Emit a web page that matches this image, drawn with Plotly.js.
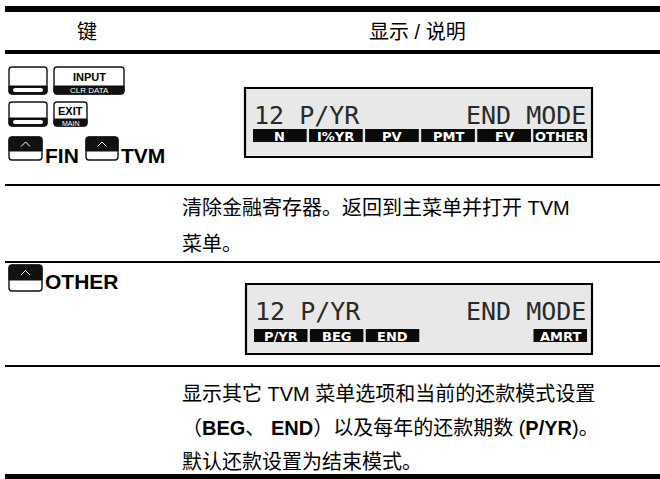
<!DOCTYPE html>
<html>
<head>
<meta charset="utf-8">
<script src="https://cdn.plot.ly/plotly-3.0.1.min.js"></script>
<style>html,body{margin:0;padding:0;background:#fff;}#chart{width:660px;height:479px;}</style>
</head>
<body>
<div id="chart"></div>
<script>
// ---- content ----
const headers = ['键', '显示 / 说明'];
const inputKey = ['INPUT', 'CLR DATA'];
const exitKey = ['EXIT', 'MAIN'];
const row1ShiftLabels = ['FIN', 'TVM'];
const display1Top = ['12 P/YR', 'END MODE'];
const display1Menu = ['N', 'I%YR', 'PV', 'PMT', 'FV', 'OTHER'];
const row1Desc = ['清除金融寄存器。返回到主菜单并打开 TVM', '菜单。'];
const row2ShiftLabels = ['OTHER'];
const display2Top = ['12 P/YR', 'END MODE'];
const display2Menu = ['P/YR', 'BEG', 'END', '', '', 'AMRT'];
const row2Desc = ['显示其它 TVM 菜单选项和当前的还款模式设置',
                  '（<b>BEG</b>、 <b>END</b>）以及每年的还款期数 (<b>P/YR</b>)。',
                  '默认还款设置为结束模式。'];

// ---- drawing helpers ----
const shapes = [];
const ann = [];
const BODY = 'Liberation Sans, Arial, Noto Sans CJK SC, sans-serif';
const LCD = 'DejaVu Sans Mono, monospace';

function rr(x0, y0, x1, y1, r) {
  return `M${x0+r},${y0} L${x1-r},${y0} Q${x1},${y0} ${x1},${y0+r} L${x1},${y1-r} Q${x1},${y1} ${x1-r},${y1} L${x0+r},${y1} Q${x0},${y1} ${x0},${y1-r} L${x0},${y0+r} Q${x0},${y0} ${x0+r},${y0} Z`;
}
function bottomBand(x0, yb, x1, y1, r) {
  return `M${x0},${yb} L${x1},${yb} L${x1},${y1-r} Q${x1},${y1} ${x1-r},${y1} L${x0+r},${y1} Q${x0},${y1} ${x0},${y1-r} Z`;
}
function topBand(x0, y0, x1, yb, r) {
  return `M${x0+r},${y0} L${x1-r},${y0} Q${x1},${y0} ${x1},${y0+r} L${x1},${yb} L${x0},${yb} L${x0},${y0+r} Q${x0},${y0} ${x0+r},${y0} Z`;
}
function path(p, fill, lc, lw) {
  shapes.push({type: 'path', xref: 'x', yref: 'y', path: p, fillcolor: fill,
    line: {color: lc || fill, width: lw === undefined ? 0 : lw}, layer: 'above'});
}
function rect(x0, y0, x1, y1, fill, lc, lw) {
  shapes.push({type: 'rect', xref: 'x', yref: 'y', x0, y0, x1, y1, fillcolor: fill,
    line: {color: lc || fill, width: lw || 0}, layer: 'above'});
}
function text(t, x, y, size, opts) {
  opts = opts || {};
  ann.push({text: t, x, y, xref: 'x', yref: 'y', showarrow: false,
    xanchor: opts.xa || 'center', yanchor: opts.ya || 'middle',
    font: {family: opts.family || BODY, size, color: opts.color || '#000', weight: opts.weight || 'normal'}});
}
function blankKey(x0, y0, x1, y1, yb) {
  path(rr(x0, y0, x1, y1, 3), '#fff', '#111', 1.4);
  path(bottomBand(x0, yb, x1, y1, 3), '#111', '#111', 1);
  path(rr(x0 + 4, yb + 2, x1 - 4, y1 - 2, 2), '#fff', '#fff', 0);
}
function labelKey(x0, y0, x1, y1, yb, labels, s1, s2) {
  path(rr(x0, y0, x1, y1, 3), '#fff', '#111', 1.4);
  path(bottomBand(x0, yb, x1, y1, 3), '#111', '#111', 1);
  text(labels[0], (x0 + x1) / 2, (y0 + yb) / 2 + 0.5, s1, {weight: 'bold'});
  text(labels[1], (x0 + x1) / 2, (yb + y1) / 2 + 0.5, s2, {color: '#fff'});
}
function shiftKey(x0, y0, x1, y1, yb) {
  path(rr(x0, y0, x1, y1, 3), '#fff', '#111', 1.4);
  path(topBand(x0, y0, x1, yb, 3), '#111', '#111', 1);
  const cx = (x0 + x1) / 2, cy = (y0 + yb) / 2;
  shapes.push({type: 'path', xref: 'x', yref: 'y', layer: 'above',
    path: `M${cx-4.5},${cy+2.5} L${cx},${cy-2} L${cx+4.5},${cy+2.5}`,
    line: {color: '#fff', width: 1}});
}
function display(x0, y0, x1, y1, top, menu, textY, barY0, barY1) {
  rect(x0, y0, x1, y1, '#e8e8e8', '#000', 2.2);
  const inL = x0 + 8, inR = x1 - 5;
  text(top[0], inL - 1, textY, 25, {xa: 'left', family: LCD, color: '#2a2a2a'});
  text(top[1], inR + 1, textY, 25, {xa: 'right', family: LCD, color: '#2a2a2a'});
  const n = menu.length, gap = 2.4;
  const segW = (inR - inL - gap * (n - 1)) / n;
  menu.forEach((m, i) => {
    if (!m) return;
    const sx = inL + i * (segW + gap);
    rect(sx, barY0, sx + segW, barY1, '#0a0a0a');
    text(m, sx + segW / 2, (barY0 + barY1) / 2 + 0.5, 13,
      {family: 'DejaVu Sans, sans-serif', weight: 'bold', color: '#fff'});
  });
}

// ---- table rules ----
const rules = [[6, 12], [50, 54], [184, 186], [261, 263], [365, 367], [474, 479]];
rules.forEach(r => rect(5, r[0], 660, r[1], '#000'));

// ---- header ----
text(headers[0], 87, 32, 20);
text(headers[1], 417, 32, 20);

// ---- row 1 keys ----
blankKey(9, 67, 47, 94, 86);
labelKey(54, 67, 124, 94, 86, inputKey, 11, 8);
blankKey(9, 102, 47, 126, 118);
labelKey(54, 102, 87, 126, 119, exitKey, 11, 7);
shiftKey(9, 137, 42, 160, 151);
text(row1ShiftLabels[0], 43, 155, 21, {xa: 'left', weight: 'bold'});
shiftKey(86, 137, 118, 160, 151);
text(row1ShiftLabels[1], 119, 155, 21, {xa: 'left', weight: 'bold'});

display(245, 88, 592, 157, display1Top, display1Menu, 115, 129, 142);

// ---- row 1 description ----
text(row1Desc[0], 180, 208, 20, {xa: 'left'});
text(row1Desc[1], 180, 244, 20, {xa: 'left'});

// ---- row 2 ----
shiftKey(9, 265, 42, 291, 280);
text(row2ShiftLabels[0], 43, 281, 21, {xa: 'left', weight: 'bold'});
display(246, 284, 592, 354, display2Top, display2Menu, 311, 329, 342);

row2Desc.forEach((t, i) => text(t, 180, 394 + i * 34, 20, {xa: 'left'}));

const layout = {
  width: 660, height: 479,
  margin: {l: 0, r: 0, t: 0, b: 0, pad: 0},
  paper_bgcolor: '#fff', plot_bgcolor: '#fff',
  xaxis: {range: [0, 660], visible: false, fixedrange: true},
  yaxis: {range: [479, 0], visible: false, fixedrange: true},
  showlegend: false,
  shapes: shapes,
  annotations: ann
};
Plotly.newPlot('chart', [{x: [], y: [], type: 'scatter', hoverinfo: 'skip'}], layout,
  {displayModeBar: false, staticPlot: true});
</script>
</body>
</html>
